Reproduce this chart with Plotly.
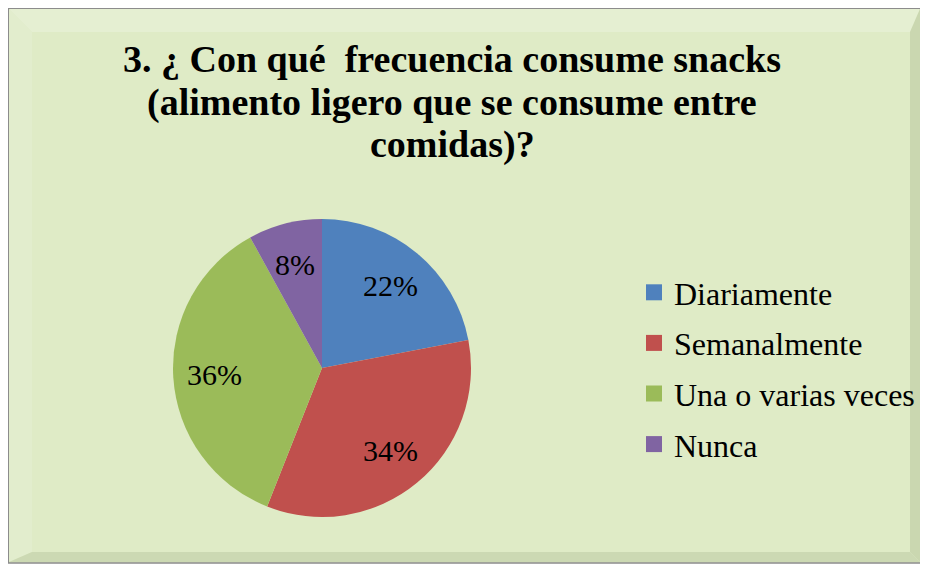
import math
import plotly.graph_objects as go

categories = ["Diariamente", "Semanalmente", "Una o varias veces", "Nunca"]
percentages = [22, 34, 36, 8]
colors = ["#4F81BD", "#C0504D", "#9BBB59", "#8064A2"]
title_lines = ["3. ¿ Con qué  frecuencia consume snacks",
               "(alimento ligero que se consume entre",
               "comidas)?"]

# page has an 8px body margin; figure fills the rest of the 928x567 window
OFF = 8
W, H = 928 - OFF, 567 - OFF
def px(x): return (x - OFF) / W          # page pixel -> paper fraction
def py(y): return 1 - (y - OFF) / H

FONT = "Liberation Serif"

# pie geometry (page pixels)
CX, CY, R = 322, 368, 149
LABEL_R = 0.72

fig = go.Figure()
fig.add_trace(go.Pie(
    labels=categories, values=percentages, sort=False, direction="clockwise",
    rotation=0, marker=dict(colors=colors, line=dict(width=0)),
    textinfo="none", showlegend=False, hoverinfo="label+percent",
    domain=dict(x=[px(CX - R), px(CX + R)], y=[py(CY + R), py(CY - R)]),
))
for i, (cat, col) in enumerate(zip(categories, colors)):
    fig.add_trace(go.Scatter(
        x=[None], y=[None], mode="markers", name=cat,
        marker=dict(symbol="square", size=16, color=col),
        legendgroup=f"g{i}", showlegend=True,
    ))

annotations = []
# percentage labels at mid-angle of each slice
total = sum(percentages)
cum = 0
for v in percentages:
    mid = (cum + v / 2) / total * 2 * math.pi
    cum += v
    lx = CX + LABEL_R * R * math.sin(mid)
    ly = CY - LABEL_R * R * math.cos(mid)
    annotations.append(dict(
        x=px(lx), y=py(ly), xref="paper", yref="paper", showarrow=False,
        text=f"{round(v / total * 100)}%", xanchor="center", yanchor="middle",
        font=dict(family=FONT, size=30, color="black"),
    ))
# title, one annotation per line for tighter line spacing
for i, line in enumerate(title_lines):
    annotations.append(dict(
        x=px(452), y=py(59 + 43 * i), xref="paper", yref="paper", showarrow=False,
        text=f"<b>{line}</b>", xanchor="center", yanchor="middle",
        font=dict(family=FONT, size=38, color="black"),
    ))

shapes = [
    dict(type="rect", xref="paper", yref="paper", x0=px(8.5), x1=px(921), y0=py(563), y1=py(8.5),
         fillcolor="#DFEBC6", line=dict(color="#8C8C8C", width=1.5), layer="below"),
    dict(type="path", xref="paper", yref="paper",
         path=f"M {px(9)},{py(9)} L {px(920)},{py(9)} L {px(910)},{py(32)} L {px(32)},{py(32)} Z",
         fillcolor="#E5EFD2", line=dict(width=0), layer="below"),
    dict(type="path", xref="paper", yref="paper",
         path=f"M {px(9)},{py(9)} L {px(32)},{py(32)} L {px(32)},{py(552)} L {px(9)},{py(562)} Z",
         fillcolor="#E2EDCD", line=dict(width=0), layer="below"),
    dict(type="path", xref="paper", yref="paper",
         path=f"M {px(920)},{py(9)} L {px(920)},{py(562)} L {px(910)},{py(552)} L {px(910)},{py(32)} Z",
         fillcolor="#CAD7B0", line=dict(width=0), layer="below"),
    dict(type="path", xref="paper", yref="paper",
         path=f"M {px(9)},{py(562)} L {px(920)},{py(562)} L {px(910)},{py(552)} L {px(32)},{py(552)} Z",
         fillcolor="#CCD9B3", line=dict(width=0), layer="below"),
]

fig.update_layout(
    width=W, height=H,
    margin=dict(l=0, r=0, t=0, b=0, autoexpand=False),
    paper_bgcolor="white", plot_bgcolor="rgba(0,0,0,0)",
    shapes=shapes, annotations=annotations,
    xaxis=dict(visible=False), yaxis=dict(visible=False),
    legend=dict(x=px(634), y=py(265), xanchor="left", yanchor="top",
                font=dict(family=FONT, size=32, color="black"),
                bgcolor="rgba(0,0,0,0)", tracegroupgap=6, itemclick=False),
    showlegend=True,
)

fig.write_html("out.html")
